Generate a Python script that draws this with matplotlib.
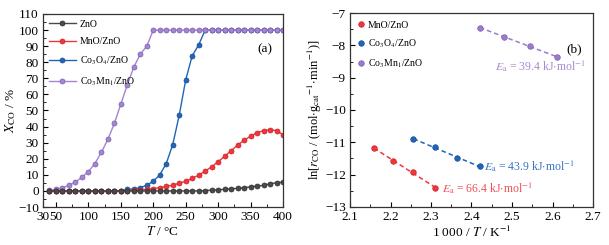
import numpy as np
import matplotlib.pyplot as plt
from matplotlib.ticker import MultipleLocator

plt.rcParams['font.family'] = ['Liberation Serif', 'DejaVu Sans', 'Noto Sans CJK SC']
plt.rcParams['mathtext.fontset'] = 'stix'

# (a) CO conversion vs temperature
temps = list(range(40, 401, 10))
x_zno = [0, 0, 0, 0, 0, 0, 0, 0, 0, 0, 0, 0, 0, 0, 0, 0, 0, 0, 0, 0, 0, 0, 0, 0,
         0.2, 0.5, 0.7, 1.0, 1.3, 1.6, 2.0, 2.5, 3.0, 3.5, 4.5, 5.0, 5.5]
x_mno = [0, 0, 0, 0, 0, 0, 0, 0, 0, 0, 0, 0, 0.2, 0.3, 0.6, 1.0, 1.5, 2.0, 2.8,
         3.5, 4.8, 6.0, 7.8, 9.8, 12.3, 15.0, 18.2, 21.5, 25.0, 28.5, 31.5, 34.0,
         36.2, 37.5, 38.0, 37.5, 35.0]
x_co3o4 = [0, 0, 0, 0, 0, 0, 0, 0, 0, 0, 0, 0, 1.0, 1.2, 2.0, 3.5, 6.0, 10.0,
           17.0, 28.8, 47.0, 69.0, 84.0, 90.8, 100, 100, 100, 100, 100, 100,
           100, 100, 100, 100, 100, 100, 100]
x_comn = [0.3, 1.0, 2.0, 3.5, 5.5, 8.5, 12.0, 17.0, 24.0, 32.0, 42.0, 54.0,
          66.0, 77.0, 85.0, 90.0, 100, 100, 100, 100, 100, 100, 100, 100, 100,
          100, 100, 100, 100, 100, 100, 100, 100, 100, 100, 100, 100]

# (b) Arrhenius data
t_mno = [190, 180, 170, 160]
ln_mno = [-11.19, -11.57, -11.91, -12.41]
t_co3o4 = [170, 160, 150, 140]
ln_co3o4 = [-10.89, -11.14, -11.50, -11.73]
t_comn = [140, 130, 120, 110]
ln_comn = [-7.46, -7.73, -8.02, -8.36]
ea_labels = ['66.4', '43.9', '39.4']

c_grey = '#4a4a4a'
c_red = '#f2343b'
c_blue = '#2065b8'
c_purple = '#9370c4'

fig = plt.figure(figsize=(6.09, 2.45), dpi=100)
ax1 = fig.add_axes([43/609, 1-207/245, 240/609, 193/245])
ax2 = fig.add_axes([350/609, 1-207/245, 243/609, 194/245])

ms = 3.6
def series(ax, y, c, ec, label):
    ax.plot(temps, y, '-', color=c, lw=1.0, marker='o', ms=ms,
            mfc=c, mec=ec, mew=0.5, label=label)

series(ax1, x_co3o4, c_blue, '#174f94', r'Co$_3$O$_4$/ZnO')
series(ax1, x_comn, '#a385d0', '#7d5db0', r'Co$_3$Mn$_1$/ZnO')
series(ax1, x_mno, c_red, '#c8252b', 'MnO/ZnO')
series(ax1, x_zno, c_grey, '#2e2e2e', 'ZnO')

h, l = ax1.get_legend_handles_labels()
order = [3, 2, 0, 1]
ax1.legend([h[i] for i in order], [l[i] for i in order], loc='upper left',
           fontsize=7, frameon=False, handlelength=2.8, labelspacing=0.85,
           borderaxespad=0.2, handletextpad=0.4)

ax1.set_xlim(30, 400)
ax1.set_ylim(-10, 110)
ax1.set_xticks([30, 50, 100, 150, 200, 250, 300, 350, 400])
ax1.xaxis.set_minor_locator(MultipleLocator(25))
ax1.yaxis.set_major_locator(MultipleLocator(10))
ax1.yaxis.set_minor_locator(MultipleLocator(5))
ax1.set_xlabel(r'$T$ / °C', fontsize=9.5, labelpad=1)
ax1.set_ylabel(r'$X_{\rm CO}$ / %', fontsize=9.5, labelpad=0)
ax1.text(0.955, 0.8, '(a)', transform=ax1.transAxes, ha='right', fontsize=9.5)

def arr(ax, t, y, c, ec, label):
    x = 1000 / (np.array(t) + 273.15)
    k, b = np.polyfit(x, y, 1)
    xx = np.array([x.min(), x.max()])
    ax.plot(xx, k*xx + b, '--', color=c, lw=1.1, dashes=(3, 2))
    ax.plot(x, y, 'o', ms=4.0, mfc=c, mec=ec, mew=0.5, label=label,
            linestyle='none')

arr(ax2, t_mno, ln_mno, c_red, '#c8252b', 'MnO/ZnO')
arr(ax2, t_co3o4, ln_co3o4, c_blue, '#174f94', r'Co$_3$O$_4$/ZnO')
arr(ax2, t_comn, ln_comn, '#9a7ccb', '#7d5db0', r'Co$_3$Mn$_1$/ZnO')
ax2.legend(loc='upper left', fontsize=7, frameon=False, handlelength=0.7,
           labelspacing=0.8, borderaxespad=0.4, handletextpad=0.3)

ea_fs = 8.5
ax2.text(2.326, -12.42, r'$E_{\rm a}$ = ' + ea_labels[0] + r' kJ$\cdot$mol$^{-1}$',
         color='#f0505a', fontsize=ea_fs, va='center')
ax2.text(2.432, -11.74, r'$E_{\rm a}$ = ' + ea_labels[1] + r' kJ$\cdot$mol$^{-1}$',
         color='#3a74c2', fontsize=ea_fs, va='center')
ax2.text(2.457, -8.63, r'$E_{\rm a}$ = ' + ea_labels[2] + r' kJ$\cdot$mol$^{-1}$',
         color='#a68bd2', fontsize=ea_fs, va='center')
ax2.text(0.955, 0.8, '(b)', transform=ax2.transAxes, ha='right', fontsize=9.5)

ax2.set_xlim(2.1, 2.7)
ax2.set_ylim(-13, -7)
ax2.xaxis.set_major_locator(MultipleLocator(0.1))
ax2.xaxis.set_minor_locator(MultipleLocator(0.05))
ax2.yaxis.set_major_locator(MultipleLocator(1))
ax2.yaxis.set_minor_locator(MultipleLocator(0.5))
ax2.set_xlabel(r'1 000 / $T$ / K$^{-1}$', fontsize=9.5, labelpad=1)
ax2.set_ylabel(r'ln[$r_{\rm CO}$ / (mol$\cdot$g$_{\rm cat}$$^{-1}$$\cdot$min$^{-1}$)]',
               fontsize=9, labelpad=1)

for ax in (ax1, ax2):
    ax.tick_params(which='both', direction='in', top=False, right=False,
                   labelsize=9.5, pad=3)
    ax.tick_params(which='major', length=3.5, width=0.8)
    ax.tick_params(which='minor', length=2, width=0.6)
    for s in ax.spines.values():
        s.set_linewidth(0.9)
        s.set_color('#333333')

fig.savefig('out.png', dpi=100)
